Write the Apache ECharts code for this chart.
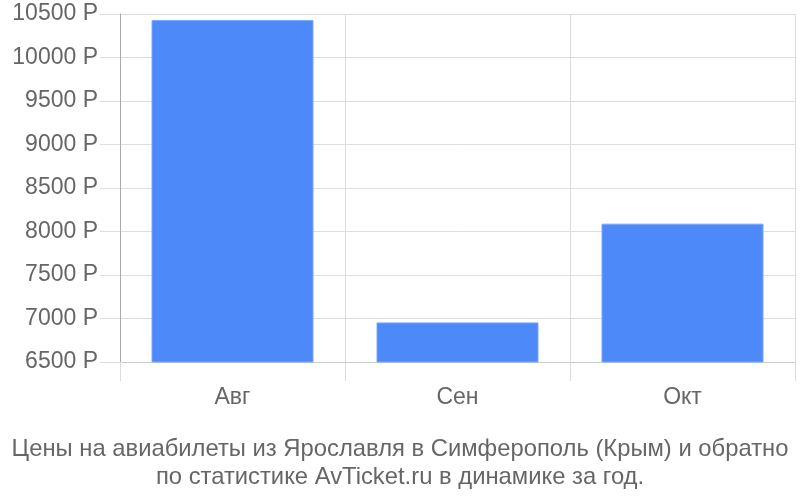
<!DOCTYPE html>
<html><head><meta charset="utf-8">
<script src="https://cdn.jsdelivr.net/npm/echarts@6/dist/echarts.min.js"></script>
<style>html,body{margin:0;padding:0;background:#fff}#c{width:800px;height:500px}</style>
</head><body><div id="c"></div>
<script>
const categories = ["Авг", "Сен", "Окт"];
const prices = [10430, 6955, 8090];
const yTicks = [6500, 7000, 7500, 8000, 8500, 9000, 9500, 10000, 10500];
const titleLines = ["Цены на авиабилеты из Ярославля в Симферополь (Крым) и обратно", "по статистике AvTicket.ru в динамике за год."];

const FF = "Liberation Sans, Arial, sans-serif";
const chart = echarts.init(document.getElementById('c'));
chart.setOption({
  animation: false,
  textStyle: {fontFamily: FF},
  title: {
    text: titleLines.join("\n"),
    left: 'center', top: 430,
    textStyle: {fontSize: 23.8, fontWeight: 'normal', color: '#666', lineHeight: 28, fontFamily: FF}
  },
  grid: {left: 120, right: 5, top: 14, bottom: 138, containLabel: false},
  xAxis: {
    type: 'category', data: categories,
    axisLine: {show: true, lineStyle: {color: '#ccc', width: 1}},
    axisTick: {show: true, length: 19, lineStyle: {color: '#ddd'}},
    splitLine: {show: true, lineStyle: {color: '#ddd'}},
    axisLabel: {fontSize: 23, color: '#666', margin: 24, fontFamily: FF}
  },
  yAxis: {
    type: 'value', min: yTicks[0], max: yTicks[yTicks.length-1], interval: 500,
    axisLine: {show: true, lineStyle: {color: '#aaa'}},
    axisTick: {show: true, length: 20, lineStyle: {color: '#ddd'}},
    splitLine: {show: true, lineStyle: {color: '#ddd'}},
    axisLabel: {fontSize: 23, color: '#666', margin: 22, formatter: v => v + ' Р', fontFamily: FF}
  },
  series: [{
    type: 'bar', data: prices, barWidth: '72%',
    itemStyle: {color: '#4d89f9', borderColor: '#7aa8fb', borderWidth: 1}
  }]
});
</script></body></html>
